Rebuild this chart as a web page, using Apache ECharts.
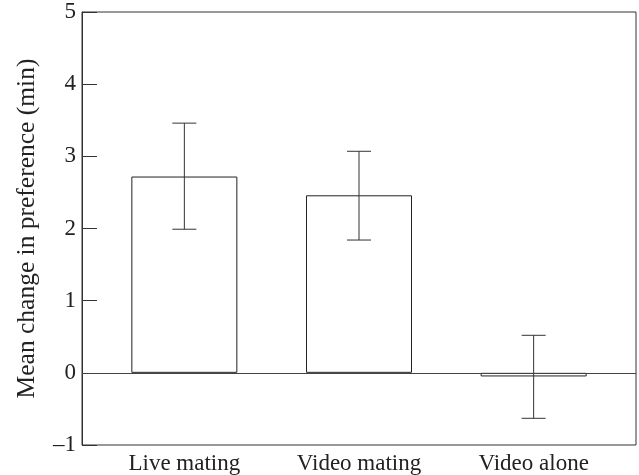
<!DOCTYPE html>
<html>
<head>
<meta charset="utf-8">
<script src="https://cdn.jsdelivr.net/npm/echarts@6/dist/echarts.min.js"></script>
<style>
  html, body { margin: 0; padding: 0; background: #fff; }
  #chart { width: 639px; height: 475px; }
</style>
</head>
<body>
<div id="chart"></div>
<script>
// values
const categories = ['Live mating', 'Video mating', 'Video alone']
const means = [2.72, 2.46, -0.05]
const errLow = [1.99, 1.84, -0.63]
const errHigh = [3.46, 3.07, 0.52]
const yTicks = [-1, 0, 1, 2, 3, 4, 5]

const font = 'Liberation Serif'
const ink = '#222'

let chart = echarts.init(document.getElementById('chart'), null, { renderer: 'canvas' })

chart.setOption({
    animation: false,
    backgroundColor: '#fff',
    grid: {
        left: 82, right: 3, top: 12, bottom: 29,
        show: true, borderColor: '#333', borderWidth: 1, backgroundColor: 'transparent'
    },
    xAxis: {
        type: 'value',
        min: -0.586,
        max: 2.586,
        axisLine: { show: false },
        axisTick: { show: false },
        splitLine: { show: false },
        axisLabel: {
            customValues: [0, 1, 2],
            formatter: v => categories[Math.round(v)],
            fontFamily: font, fontSize: 23, color: ink, margin: 7
        }
    },
    yAxis: {
        type: 'value',
        min: yTicks[0],
        max: yTicks[yTicks.length - 1],
        interval: 1,
        name: 'Mean change in preference (min)',
        nameLocation: 'middle',
        nameGap: 42,
        nameTextStyle: { fontFamily: font, fontSize: 25.5, color: ink },
        axisLine: { show: true, onZero: false, lineStyle: { color: '#333', width: 1 } },
        axisTick: { show: true, inside: true, length: 15, lineStyle: { color: '#333' } },
        splitLine: { show: false },
        axisLabel: {
            fontFamily: font, fontSize: 23, color: ink, margin: 6,
            formatter: v => v < 0 ? '\u2013' + Math.abs(v) : String(v)
        }
    },
    series: [
        {
            type: 'bar',
            barWidth: 106,
            data: means.map((m, i) => [i, m]),
            itemStyle: { color: '#fff', borderColor: ink, borderWidth: 1 },
            markLine: {
                silent: true,
                symbol: 'none',
                label: { show: false },
                lineStyle: { color: '#444', width: 1, type: 'solid' },
                data: [{ yAxis: 0 }]
            },
            z: 2
        },
        {
            type: 'custom',
            data: means.map((m, i) => [i, errLow[i], errHigh[i]]),
            renderItem: (params, api) => {
                const lo = api.coord([api.value(0), api.value(1)])
                const hi = api.coord([api.value(0), api.value(2)])
                const half = 12
                const style = { stroke: '#333', lineWidth: 1 }
                return {
                    type: 'group',
                    children: [
                        { type: 'line', shape: { x1: hi[0], y1: hi[1], x2: lo[0], y2: lo[1] }, style },
                        { type: 'line', shape: { x1: hi[0] - half, y1: hi[1], x2: hi[0] + half, y2: hi[1] }, style },
                        { type: 'line', shape: { x1: lo[0] - half, y1: lo[1], x2: lo[0] + half, y2: lo[1] }, style }
                    ]
                }
            },
            z: 3
        }
    ]
})
</script>
</body>
</html>
